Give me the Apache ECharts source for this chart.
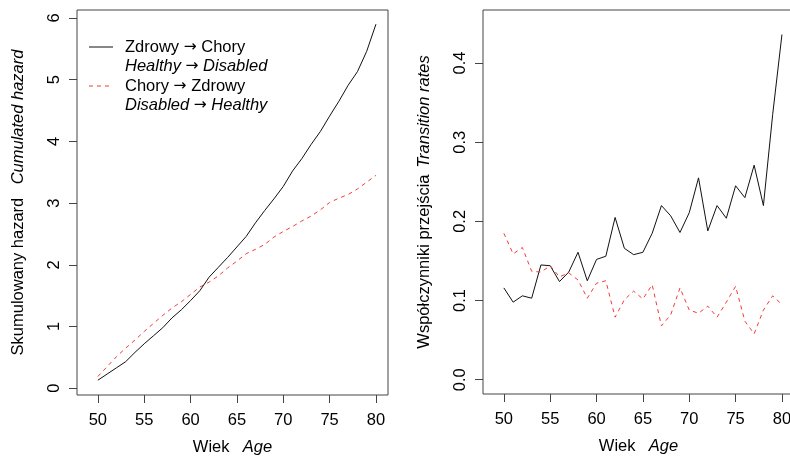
<!DOCTYPE html>
<html>
<head>
<meta charset="utf-8">
<script src="https://cdn.jsdelivr.net/npm/echarts@6/dist/echarts.min.js"></script>
<style>
  html, body { margin: 0; padding: 0; background: #fff; }
  #chart { width: 790px; height: 457px; }
</style>
</head>
<body>
<div id="chart"></div>
<script>
// ages 50..80
const ages = [50, 51, 52, 53, 54, 55, 56, 57, 58, 59, 60, 61, 62, 63, 64, 65,
  66, 67, 68, 69, 70, 71, 72, 73, 74, 75, 76, 77, 78, 79, 80];

// left panel: cumulated hazard
const cumHealthyDisabled = [0.13, 0.23, 0.33, 0.43, 0.58, 0.72, 0.85, 0.98, 1.14, 1.27, 1.42, 1.58, 1.80, 1.96, 2.12, 2.29,
  2.46, 2.68, 2.88, 3.07, 3.27, 3.52, 3.72, 3.95, 4.16, 4.41, 4.65, 4.91, 5.13, 5.46, 5.90];
const cumDisabledHealthy = [0.19, 0.35, 0.51, 0.65, 0.78, 0.92, 1.05, 1.18, 1.30, 1.40, 1.52, 1.64, 1.72, 1.82, 1.95, 2.06,
  2.18, 2.25, 2.33, 2.45, 2.54, 2.62, 2.71, 2.79, 2.89, 3.01, 3.08, 3.14, 3.23, 3.34, 3.45];

// right panel: transition rates
const rateHealthyDisabled = [0.116, 0.098, 0.106, 0.103, 0.145, 0.144, 0.124, 0.136, 0.161, 0.125, 0.152, 0.156, 0.205, 0.166, 0.158, 0.161,
  0.185, 0.220, 0.207, 0.186, 0.211, 0.255, 0.188, 0.220, 0.204, 0.245, 0.230, 0.271, 0.220, 0.335, 0.436];
const rateDisabledHealthy = [0.185, 0.159, 0.167, 0.137, 0.136, 0.144, 0.130, 0.135, 0.126, 0.103, 0.122, 0.125, 0.079, 0.101, 0.112, 0.102,
  0.120, 0.068, 0.082, 0.116, 0.088, 0.084, 0.093, 0.079, 0.098, 0.118, 0.074, 0.058, 0.088, 0.106, 0.095];

const xTicks = [50, 55, 60, 65, 70, 75, 80];
const yTicksLeft = [0, 1, 2, 3, 4, 5, 6];
const yTicksRight = [0, 0.1, 0.2, 0.3, 0.4];

const FONT = '"Liberation Sans", Arial, Helvetica, sans-serif';
const FS = 16.5;
const INK = '#000';
const FRAME = '#444';
const RED = '#f43a3a';

const nameRich = {
  n: { fontFamily: FONT, fontSize: FS, color: INK },
  i: { fontFamily: FONT, fontSize: FS, color: INK, fontStyle: 'italic' }
};

const legendRich = {
  n: { fontFamily: FONT, fontSize: FS, color: INK },
  i: { fontFamily: FONT, fontSize: FS, color: INK, fontStyle: 'italic' },
  a: { fontFamily: '"DejaVu Sans", sans-serif', fontSize: FS - 1, color: INK }
};

function pairs(values) {
  return ages.map((a, i) => [a, values[i]]);
}

function xAxisFor(gridIndex) {
  return {
    type: 'value', gridIndex, min: 47.75, max: 81.3,
    name: '{n|Wiek}    {i|Age}', nameLocation: 'middle', nameGap: 44,
    nameTextStyle: { rich: nameRich },
    axisLine: { show: false, onZero: false },
    axisTick: { show: true, length: 8, lineStyle: { color: FRAME }, customValues: xTicks },
    axisLabel: { color: INK, fontFamily: FONT, fontSize: FS, margin: 17, customValues: xTicks },
    splitLine: { show: false }
  };
}

function yAxisFor(gridIndex, min, max, ticks, name, fmt) {
  return {
    type: 'value', gridIndex, min, max,
    name, nameLocation: 'middle', nameRotate: 90, nameGap: 50,
    nameTextStyle: { rich: nameRich },
    axisLine: { show: false, onZero: false },
    axisTick: { show: true, length: 8, lineStyle: { color: FRAME }, customValues: ticks },
    axisLabel: { color: INK, fontFamily: FONT, fontSize: FS, rotate: 90, margin: 14, customValues: ticks, formatter: fmt },
    splitLine: { show: false }
  };
}

function legendLine(y, color, dash) {
  return { type: 'line', shape: { x1: 89, y1: y, x2: 113, y2: y }, style: { stroke: color, lineWidth: 1, lineDash: dash } };
}

function legendText(y, text) {
  return {
    type: 'text', x: 125, y,
    style: { text, rich: legendRich, verticalAlign: 'middle', align: 'left' }
  };
}

const chart = echarts.init(document.getElementById('chart'), null, { renderer: 'canvas' });
chart.setOption({
  animation: false,
  backgroundColor: '#fff',
  grid: [
    { left: 77, top: 10, width: 311, height: 385, outerBoundsMode: 'none', containLabel: false,
      show: true, borderColor: FRAME, borderWidth: 1, backgroundColor: 'transparent' },
    { left: 483, top: 10, width: 311, height: 384, outerBoundsMode: 'none', containLabel: false,
      show: true, borderColor: FRAME, borderWidth: 1, backgroundColor: 'transparent' }
  ],
  xAxis: [xAxisFor(0), xAxisFor(1)],
  yAxis: [
    yAxisFor(0, -0.11, 6.13, yTicksLeft, '{n|Skumulowany hazard}    {i|Cumulated hazard}', (v) => String(v)),
    yAxisFor(1, -0.018, 0.467, yTicksRight, '{n|Współczynniki przejścia}  {i|Transition rates}', (v) => v.toFixed(1))
  ],
  series: [
    { type: 'line', xAxisIndex: 0, yAxisIndex: 0, data: pairs(cumHealthyDisabled), showSymbol: false,
      lineStyle: { color: '#111', width: 1 } },
    { type: 'line', xAxisIndex: 0, yAxisIndex: 0, data: pairs(cumDisabledHealthy), showSymbol: false,
      lineStyle: { color: RED, width: 1, type: [4, 4] } },
    { type: 'line', xAxisIndex: 1, yAxisIndex: 1, data: pairs(rateHealthyDisabled), showSymbol: false,
      lineStyle: { color: '#111', width: 1 } },
    { type: 'line', xAxisIndex: 1, yAxisIndex: 1, data: pairs(rateDisabledHealthy), showSymbol: false,
      lineStyle: { color: RED, width: 1, type: [4, 4] } }
  ],
  graphic: [
    legendLine(47, '#111', null),
    legendText(47, '{n|Zdrowy }{a|→}{n| Chory}'),
    legendText(66, '{i|Healthy }{a|→}{i| Disabled}'),
    legendLine(86, RED, [4, 4]),
    legendText(86, '{n|Chory }{a|→}{n| Zdrowy}'),
    legendText(105, '{i|Disabled }{a|→}{i| Healthy}')
  ]
});
</script>
</body>
</html>
